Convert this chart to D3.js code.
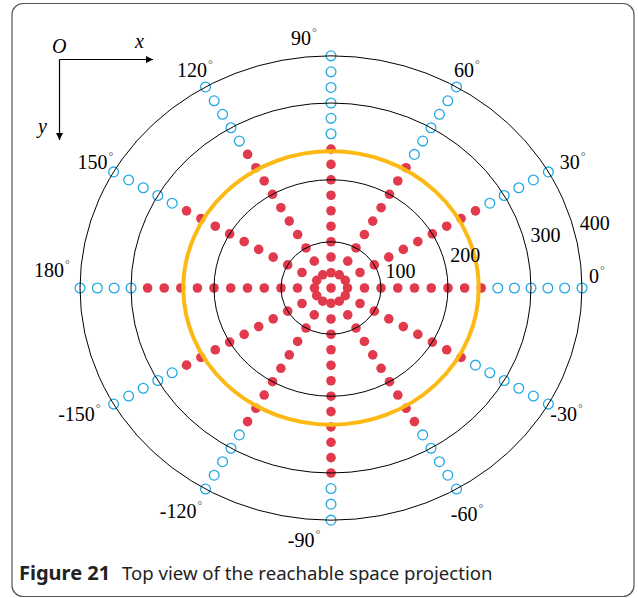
<!DOCTYPE html>
<html>
<head>
<meta charset="utf-8">
<script src="https://cdn.jsdelivr.net/npm/d3@7"></script>
<style>
  body { margin: 0; background: #fff; }
  svg { display: block; }
</style>
</head>
<body>
<div id="chart"></div>
<script>
// radial rings and their labels
const ringValues = [100, 200, 300, 400];
// reachable boundary (orange ring)
const boundaryValue = 237;
// rays, in degrees
const rayAngles = [0, 30, 60, 90, 120, 150, 180, -150, -120, -90, -60, -30];
const angleLabels = ["0", "30", "60", "90", "120", "150", "180", "-150", "-120", "-90", "-60", "-30"];
// sample distances along every ray
const sampleRadii = [0, 33, 67, 100, 125, 150, 175, 200, 220, 240, 260, 280, 300, 333, 366, 400];
// last reachable sample index on each ray (same order as rayAngles)
const reachIndex = [9, 10, 9, 9, 10, 10, 11, 10, 10, 12, 10, 9];

const width = 638, height = 598;
const cx = 331, cy = 288;
const aspect = 0.925; // the plot is a little squashed vertically

const svg = d3.select("#chart")
  .append("svg")
  .attr("width", width)
  .attr("height", height);

// frame
svg.append("rect")
  .attr("x", 12).attr("y", 3.5)
  .attr("width", 622).attr("height", 593)
  .attr("rx", 11)
  .attr("fill", "none")
  .attr("stroke", "#555")
  .attr("stroke-width", 1.2);

const rScale = d3.scaleLinear()
  .domain([0].concat(ringValues))
  .range([0, 50, 117, 200, 251]);

const px = (deg, v) => cx + rScale(v) * Math.cos(deg * Math.PI / 180);
const py = (deg, v) => cy - rScale(v) * aspect * Math.sin(deg * Math.PI / 180);

const g = svg.append("g");

// samples
const points = [];
rayAngles.forEach((a, i) => {
  sampleRadii.forEach((r, j) => {
    if (r === 0 && i > 0) return;
    points.push({ angle: a, r: r, reach: j <= reachIndex[i] });
  });
});

g.selectAll(".dot")
  .data(points.filter(d => d.reach))
  .enter().append("circle")
  .attr("class", "dot")
  .attr("cx", d => px(d.angle, d.r))
  .attr("cy", d => py(d.angle, d.r))
  .attr("r", 4.8)
  .attr("fill", "#e03a4c");

g.selectAll(".open")
  .data(points.filter(d => !d.reach))
  .enter().append("circle")
  .attr("class", "open")
  .attr("cx", d => px(d.angle, d.r))
  .attr("cy", d => py(d.angle, d.r))
  .attr("r", 4.9)
  .attr("fill", "none")
  .attr("stroke", "#22a9e4")
  .attr("stroke-width", 1.3);

// rings
g.selectAll(".ring")
  .data(ringValues)
  .enter().append("ellipse")
  .attr("class", "ring")
  .attr("cx", cx).attr("cy", cy)
  .attr("rx", d => rScale(d))
  .attr("ry", d => rScale(d) * aspect)
  .attr("fill", "none")
  .attr("stroke", "#000")
  .attr("stroke-width", 1);

g.append("ellipse")
  .attr("cx", cx).attr("cy", cy)
  .attr("rx", rScale(boundaryValue))
  .attr("ry", rScale(boundaryValue) * aspect)
  .attr("fill", "none")
  .attr("stroke", "#fdb913")
  .attr("stroke-width", 4);

// ring labels, along a 15 degree line
g.selectAll(".ringLabel")
  .data(ringValues)
  .enter().append("text")
  .attr("class", "ringLabel")
  .attr("x", d => cx + (rScale(d) + 22) * Math.cos(15 * Math.PI / 180))
  .attr("y", d => cy - (rScale(d) + 22) * aspect * Math.sin(15 * Math.PI / 180))
  .attr("dy", "0.35em")
  .attr("text-anchor", "middle")
  .style("font", "20px 'Liberation Serif', 'Times New Roman', serif")
  .text(d => d);

// angle labels
const nudge = {
  "0": [-6, -12], "90": [-27, 2], "180": [-7, -18], "-150": [-16, 0],
  "-120": [-14, 5], "-90": [-27, 0], "-60": [0, 8], "30": [6, 0]
};
const labelR = 272;
const angleText = g.selectAll(".angleLabel")
  .data(rayAngles)
  .enter().append("text")
  .attr("class", "angleLabel")
  .attr("x", (d, i) => cx + labelR * Math.cos(d * Math.PI / 180) + (nudge[angleLabels[i]] || [0, 0])[0])
  .attr("y", (d, i) => cy - labelR * aspect * Math.sin(d * Math.PI / 180) + (nudge[angleLabels[i]] || [0, 0])[1])
  .attr("dy", "0.35em")
  .attr("text-anchor", "middle")
  .style("font", "20px 'Liberation Serif', 'Times New Roman', serif");

angleText.append("tspan").text((d, i) => angleLabels[i]);
angleText.append("tspan")
  .attr("dx", 1)
  .attr("dy", -9)
  .style("font-size", "12px")
  .attr("fill", "#666")
  .text("°");

// coordinate indicator
const defs = svg.append("defs");
defs.append("marker")
  .attr("id", "arrow")
  .attr("viewBox", "0 0 10 10")
  .attr("refX", 10).attr("refY", 5)
  .attr("markerWidth", 10).attr("markerHeight", 7)
  .attr("markerUnits", "userSpaceOnUse")
  .attr("orient", "auto")
  .append("path")
  .attr("d", "M0,0 L10,5 L0,10 Z")
  .attr("fill", "#000");

svg.append("path")
  .attr("d", "M59.5,59.5 L153,59.5")
  .attr("stroke", "#000").attr("stroke-width", 1.2)
  .attr("marker-end", "url(#arrow)");
svg.append("path")
  .attr("d", "M59.5,59.5 L59.5,140")
  .attr("stroke", "#000").attr("stroke-width", 1.2)
  .attr("marker-end", "url(#arrow)");

const italic = "italic 20px 'Liberation Serif', 'Times New Roman', serif";
svg.append("text").attr("x", 52).attr("y", 53).style("font", italic).text("O");
svg.append("text").attr("x", 135).attr("y", 48).style("font", italic).text("x");
svg.append("text").attr("x", 38).attr("y", 133).style("font", italic).text("y");

// caption
const cap = svg.append("text")
  .attr("x", 19).attr("y", 580)
  .style("font", "18.6px 'Noto Sans', 'Open Sans', sans-serif")
  .attr("fill", "#222");
cap.append("tspan").style("font-weight", 700).style("font-size", "20px").text("Figure 21");
cap.append("tspan").attr("x", 122).text("Top view of the reachable space projection");
</script>
</body>
</html>
